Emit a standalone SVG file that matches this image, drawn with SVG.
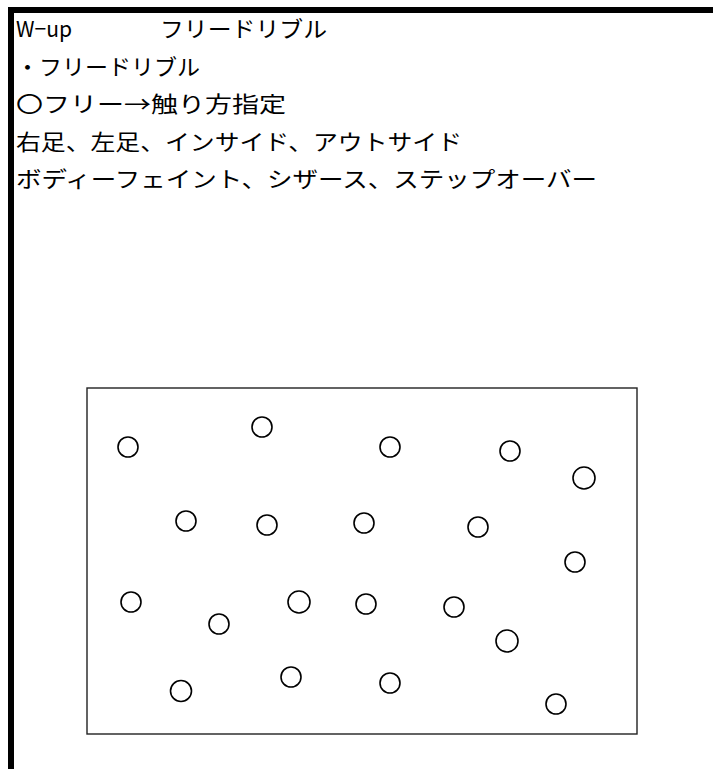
<svg xmlns="http://www.w3.org/2000/svg" width="713" height="769" viewBox="0 0 713 769">
<style>
.t{font-family:"Noto Sans CJK JP","Noto Sans",sans-serif;font-size:22px;fill:#000}
.c{fill:none;stroke:#000;stroke-width:1.6}
</style>
<rect x="0" y="0" width="713" height="769" fill="#fff"/>
<g id="frame">
<rect x="8" y="7" width="705" height="6" fill="#000"/>
<rect x="8" y="7" width="6" height="762" fill="#000"/>
</g>
<g id="text">
<text class="t" x="16" y="37" textLength="56" lengthAdjust="spacingAndGlyphs">W−up</text>
<text class="t" x="160" y="37" textLength="167" lengthAdjust="spacingAndGlyphs">フリードリブル</text>
<text class="t" x="16" y="75" textLength="184" lengthAdjust="spacingAndGlyphs">・フリードリブル</text>
<text class="t" x="16" y="112" textLength="270" lengthAdjust="spacingAndGlyphs">〇フリー→触り方指定</text>
<text class="t" x="16" y="150" textLength="446" lengthAdjust="spacingAndGlyphs">右足、左足、インサイド、アウトサイド</text>
<text class="t" x="16" y="187" textLength="581" lengthAdjust="spacingAndGlyphs">ボディーフェイント、シザース、ステップオーバー</text>
</g>
<g id="field">
<rect x="87" y="388" width="550" height="346" fill="none" stroke="#222" stroke-width="1.4"/>
</g>
<g id="cones">
<circle class="c" cx="128" cy="447" r="10"/>
<circle class="c" cx="262" cy="427" r="10"/>
<circle class="c" cx="390" cy="447" r="10"/>
<circle class="c" cx="510" cy="451" r="10"/>
<circle class="c" cx="584" cy="478" r="11"/>
<circle class="c" cx="186" cy="521" r="10"/>
<circle class="c" cx="267" cy="525" r="10"/>
<circle class="c" cx="364" cy="523" r="10"/>
<circle class="c" cx="478" cy="527" r="10"/>
<circle class="c" cx="575" cy="562" r="10"/>
<circle class="c" cx="131" cy="602" r="10"/>
<circle class="c" cx="219" cy="624" r="10"/>
<circle class="c" cx="299" cy="602" r="11"/>
<circle class="c" cx="366" cy="604" r="10"/>
<circle class="c" cx="454" cy="607" r="10"/>
<circle class="c" cx="507" cy="641" r="11"/>
<circle class="c" cx="181" cy="691" r="10.5"/>
<circle class="c" cx="291" cy="677" r="10"/>
<circle class="c" cx="390" cy="683" r="10"/>
<circle class="c" cx="556" cy="704" r="10"/>
</g>
</svg>
